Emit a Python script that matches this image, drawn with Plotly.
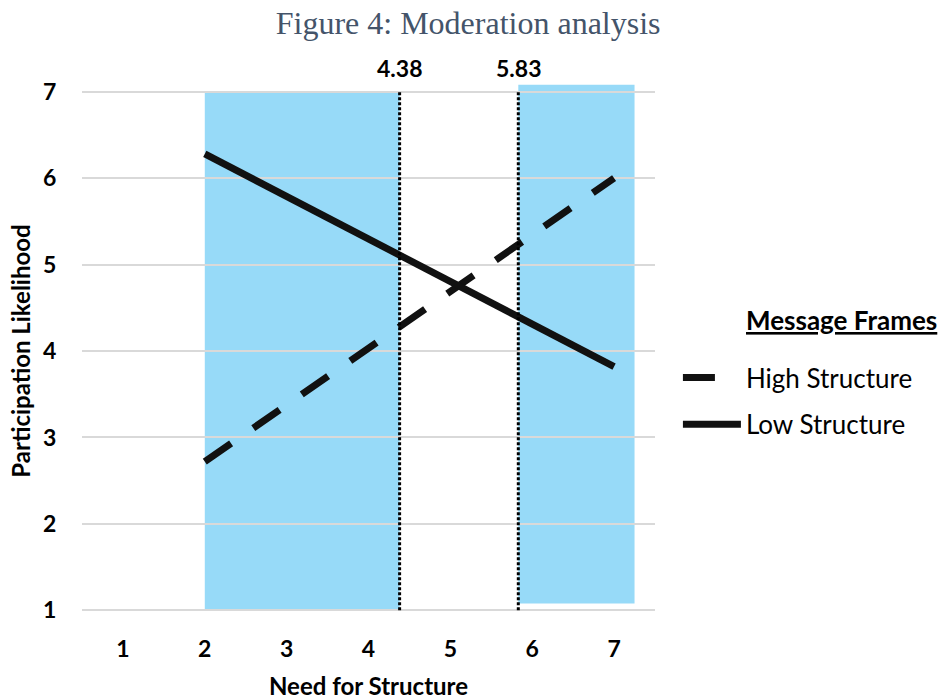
import plotly.graph_objects as go

# Simple slopes of participation likelihood across need for structure
need_x = [2, 7]
high_structure = [2.72, 6.00]
low_structure = [6.28, 3.82]

# Johnson-Neyman boundaries and the regions of significance
jn_points = [4.38, 5.83]
region_left = {"x": [2, 4.38], "y": [1, 7]}
region_right = {"x": [5.83, 7.25], "y": [1.08, 7.08]}

x_ticks = [1, 2, 3, 4, 5, 6, 7]
y_ticks = [1, 2, 3, 4, 5, 6, 7]

FONT = "Lato"
BLUE = "#97DAF8"
INK = "#111111"

fig = go.Figure()

fig.add_trace(go.Scatter(
    x=need_x, y=high_structure, mode="lines", name="High Structure",
    legendgroup="high",
    line=dict(color=INK, width=7, dash="32px,27px"),
))
fig.add_trace(go.Scatter(
    x=need_x, y=low_structure, mode="lines", name="Low Structure",
    legendgroup="low",
    line=dict(color=INK, width=7),
))

# shaded regions of significance
for reg in (region_left, region_right):
    fig.add_shape(type="rect", xref="x", yref="y",
                  x0=reg["x"][0], x1=reg["x"][1], y0=reg["y"][0], y1=reg["y"][1],
                  fillcolor=BLUE, line=dict(width=0), layer="below")

# dotted boundary lines with their labels
for v in jn_points:
    fig.add_shape(type="line", xref="x", yref="y", x0=v, x1=v, y0=1, y1=7,
                  line=dict(color="black", width=3, dash="3px,2px"), layer="above")
    fig.add_annotation(x=v, y=7, xref="x", yref="y", text=f"<b>{v:.2f}</b>",
                       showarrow=False, yshift=24, yanchor="middle",
                       font=dict(family=FONT, size=23, color="black"))

# legend heading, set apart from the entries
fig.add_annotation(x=1.155, y=(619 - 320) / 536, xref="paper", yref="paper",
                   text="<u><b>Message Frames</b></u>", showarrow=False,
                   xanchor="left", yanchor="middle",
                   font=dict(family=FONT, size=26, color="black"))

fig.update_layout(
    width=940, height=700,
    margin=dict(l=82, r=285, t=83, b=81),
    paper_bgcolor="white", plot_bgcolor="white",
    title=dict(text="Figure 4: Moderation analysis", x=0.498, xanchor="center",
               y=1 - 23 / 700, yanchor="middle",
               font=dict(family="Liberation Serif", size=32, color="#44546A")),
    font=dict(family=FONT, color="black"),
    legend=dict(
        x=1.04, xanchor="left", y=(619 - 401) / 536, yanchor="middle",
        font=dict(family=FONT, size=26, color="black"),
        bgcolor="rgba(0,0,0,0)", itemwidth=58, tracegroupgap=10,
    ),
    showlegend=True,
)

fig.update_xaxes(
    range=[0.5, 7.5], tickvals=x_ticks, ticktext=[f"<b>{t}</b>" for t in x_ticks],
    showgrid=False, zeroline=False, showline=False,
    ticks="outside", ticklen=9, tickcolor="rgba(0,0,0,0)",
    tickfont=dict(family=FONT, size=23, color="black"),
    title=dict(text="<b>Need for Structure</b>", standoff=24,
               font=dict(family=FONT, size=24, color="black")),
    automargin=False,
)
fig.update_yaxes(
    range=[0.9, 7.1], tickvals=y_ticks, ticktext=[f"<b>{t}</b>" for t in y_ticks],
    showgrid=True, gridcolor="#D9D9D9", gridwidth=1.5, zeroline=False, showline=False,
    ticks="outside", ticklen=20, tickcolor="rgba(0,0,0,0)",
    tickfont=dict(family=FONT, size=23, color="black"),
    title=dict(text="<b>Participation Likelihood</b>", standoff=5,
               font=dict(family=FONT, size=24, color="black")),
    automargin=False,
)

fig.write_html("out.html")
